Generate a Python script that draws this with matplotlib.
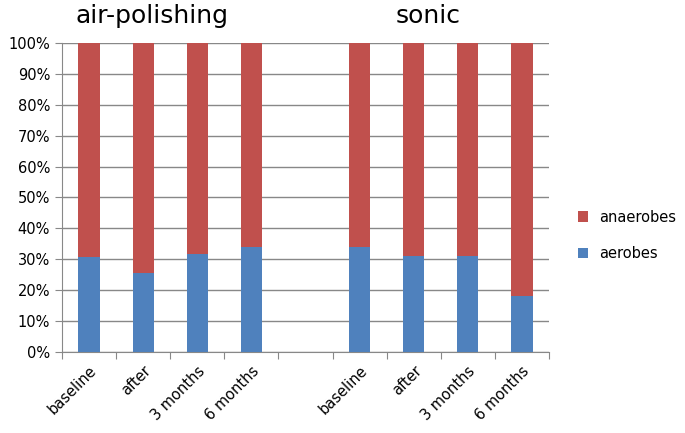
import numpy as np
import matplotlib
matplotlib.use("Agg")
from matplotlib import pyplot as plt
from matplotlib.ticker import PercentFormatter

labels = ["baseline", "after", "3 months", "6 months", "",
          "baseline", "after", "3 months", "6 months"]
aerobes = [30.6, 25.5, 31.7, 34.1, 0, 34.1, 31.2, 31.2, 18.2]
anaerobes = [69.4, 74.5, 68.3, 65.9, 0, 65.9, 68.8, 68.8, 81.8]
groups = ["air-polishing", "sonic"]

blue = "#4F81BD"
red = "#C0504D"
grey = "#888888"

fig = plt.figure(figsize=(6.85, 4.33), dpi=100)
ax = fig.add_axes([0.0905, 0.187, 0.711, 0.714])

x = np.arange(len(labels))
ax.bar(x, aerobes, width=0.39, color=blue, label="aerobes", zorder=3)
ax.bar(x, anaerobes, width=0.39, bottom=aerobes, color=red,
       label="anaerobes", zorder=3)

ax.set_xlim(-0.5, len(labels) - 0.5)
ax.set_ylim(0, 100)
ax.set_yticks(np.arange(0, 101, 10))
ax.yaxis.set_major_formatter(PercentFormatter(decimals=0))
ax.grid(axis="y", color=grey, linewidth=1, zorder=0)

# category boundaries get the tick marks, labels sit on the bars
ax.set_xticks(np.arange(-0.5, len(labels), 1))
ax.set_xticklabels([])
ax.set_xticks(x, minor=True)
ax.set_xticklabels(labels, minor=True, rotation=45, ha="right",
                   rotation_mode="anchor", fontsize=10.5)
ax.tick_params(axis="x", which="minor", length=0, pad=8)
ax.tick_params(axis="x", which="major", length=5, color=grey)
ax.tick_params(axis="y", length=5, color=grey, labelsize=10.5)

for s in ["top", "right"]:
    ax.spines[s].set_visible(False)
for s in ["left", "bottom"]:
    ax.spines[s].set_color(grey)

fig.text(0.222, 0.963, groups[0], fontsize=18, ha="center", va="center")
fig.text(0.625, 0.963, groups[1], fontsize=18, ha="center", va="center")

h, l = ax.get_legend_handles_labels()
ax.legend(h[::-1], l[::-1], loc="center left", bbox_to_anchor=(1.032, 0.377),
          frameon=False, fontsize=10.5, handlelength=0.7, handleheight=0.7,
          labelspacing=1.5)

plt.savefig("out.png", dpi=100)
